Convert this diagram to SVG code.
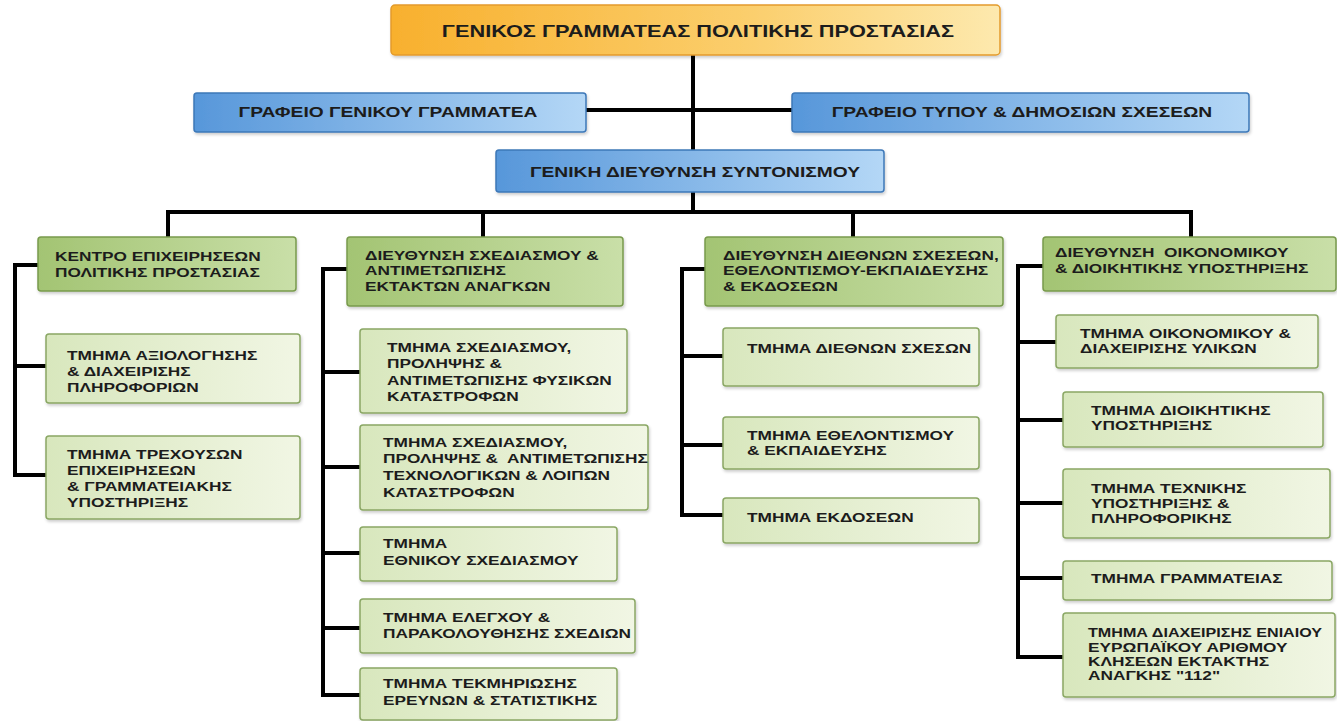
<svg xmlns="http://www.w3.org/2000/svg" width="1337" height="721" viewBox="0 0 1337 721">
<defs>
<linearGradient id="gO" x1="0" y1="0" x2="1" y2="0"><stop offset="0" stop-color="#F8B02E"/><stop offset="0.6" stop-color="#FBCF6E"/><stop offset="1" stop-color="#FDE9AE"/></linearGradient>
<linearGradient id="gB" x1="0" y1="0" x2="1" y2="0"><stop offset="0" stop-color="#5797DA"/><stop offset="1" stop-color="#B4D7F6"/></linearGradient>
<linearGradient id="gG" x1="0" y1="0" x2="1" y2="0"><stop offset="0" stop-color="#A3C473"/><stop offset="1" stop-color="#C9DFA8"/></linearGradient>
<linearGradient id="gL" x1="0" y1="0" x2="1" y2="0"><stop offset="0" stop-color="#D8E7BD"/><stop offset="1" stop-color="#F1F6E4"/></linearGradient>
<filter id="sh" x="-5%" y="-10%" width="110%" height="130%"><feDropShadow dx="1" dy="2" stdDeviation="1.5" flood-color="#000" flood-opacity="0.2"/></filter>
</defs>
<style>
.t{font-family:"Liberation Sans",Arial,sans-serif;font-weight:bold;fill:#1c1c1c;font-size:13px;white-space:pre}
.h{font-size:17px;text-anchor:middle}
.b{font-size:15px;text-anchor:middle}
.c{stroke:#000;stroke-width:4;fill:none;stroke-linecap:square}
.o{fill:url(#gO);stroke:#E39B2C;stroke-width:1.5;filter:url(#sh)}
.bl{fill:url(#gB);stroke:#3D78B8;stroke-width:1.5;filter:url(#sh)}
.g{fill:url(#gG);stroke:#789A4C;stroke-width:1.5;filter:url(#sh)}
.l{fill:url(#gL);stroke:#8AA764;stroke-width:1.5;filter:url(#sh)}
</style>
<rect width="1337" height="721" fill="#fff"/>
<g id="connectors">
<path class="c" d="M693 55V212M586 110H792M168 212H1191M168 212V237M483 212V237M853 212V237M1191 212V237"/>
<path class="c" d="M15 265V475M15 265H38M15 366H46M15 475H46"/>
<path class="c" d="M323 269V695M323 269H347M323 372H360M323 467H360M323 553H360M323 628H360M323 695H360"/>
<path class="c" d="M682 269V515M682 269H705M682 356H723M682 445H723M682 515H723"/>
<path class="c" d="M1018 266V657M1018 266H1043M1018 342H1056M1018 420H1063M1018 503H1063M1018 578H1063M1018 657H1063"/>
</g>
<g id="n0"><rect class="o" x="391" y="5" width="609" height="50" rx="4"/><text class="t h" transform="translate(698,37) scale(1.28,1)">ΓΕΝΙΚΟΣ ΓΡΑΜΜΑΤΕΑΣ ΠΟΛΙΤΙΚΗΣ ΠΡΟΣΤΑΣΙΑΣ</text></g>
<g id="n1"><rect class="bl" x="194" y="93" width="392" height="39" rx="3"/><text class="t b" transform="translate(388,117) scale(1.28,1)">ΓΡΑΦΕΙΟ ΓΕΝΙΚΟΥ ΓΡΑΜΜΑΤΕΑ</text></g>
<g id="n2"><rect class="bl" x="792" y="93" width="457" height="39" rx="3"/><text class="t b" transform="translate(1022,117) scale(1.28,1)">ΓΡΑΦΕΙΟ ΤΥΠΟΥ &amp; ΔΗΜΟΣΙΩΝ ΣΧΕΣΕΩΝ</text></g>
<g id="n3"><rect class="bl" x="496" y="150" width="388" height="42" rx="3"/><text class="t b" transform="translate(695,177) scale(1.28,1)">ΓΕΝΙΚΗ ΔΙΕΥΘΥΝΣΗ ΣΥΝΤΟΝΙΣΜΟΥ</text></g>

<g id="d1"><rect class="g" x="38" y="237" width="258" height="54" rx="3"/><text class="t" transform="translate(55,261) scale(1.33,1)"><tspan x="0" y="0">ΚΕΝΤΡΟ ΕΠΙΧΕΙΡΗΣΕΩΝ</tspan><tspan x="0" y="16">ΠΟΛΙΤΙΚΗΣ ΠΡΟΣΤΑΣΙΑΣ</tspan></text></g>
<g id="d1a"><rect class="l" x="46" y="334" width="254" height="69" rx="3"/><text class="t" transform="translate(67,360) scale(1.33,1)"><tspan x="0" y="0">ΤΜΗΜΑ ΑΞΙΟΛΟΓΗΣΗΣ</tspan><tspan x="0" y="16">&amp; ΔΙΑΧΕΙΡΙΣΗΣ</tspan><tspan x="0" y="32">ΠΛΗΡΟΦΟΡΙΩΝ</tspan></text></g>
<g id="d1b"><rect class="l" x="46" y="436" width="254" height="83" rx="3"/><text class="t" transform="translate(67,459) scale(1.33,1)"><tspan x="0" y="0">ΤΜΗΜΑ ΤΡΕΧΟΥΣΩΝ</tspan><tspan x="0" y="16">ΕΠΙΧΕΙΡΗΣΕΩΝ</tspan><tspan x="0" y="32">&amp; ΓΡΑΜΜΑΤΕΙΑΚΗΣ</tspan><tspan x="0" y="48">ΥΠΟΣΤΗΡΙΞΗΣ</tspan></text></g>

<g id="d2"><rect class="g" x="347" y="237" width="276" height="69" rx="3"/><text class="t" transform="translate(365,260) scale(1.33,1)"><tspan x="0" y="0">ΔΙΕΥΘΥΝΣΗ ΣΧΕΔΙΑΣΜΟΥ &amp;</tspan><tspan x="0" y="15.5">ΑΝΤΙΜΕΤΩΠΙΣΗΣ</tspan><tspan x="0" y="31">ΕΚΤΑΚΤΩΝ ΑΝΑΓΚΩΝ</tspan></text></g>
<g id="d2a"><rect class="l" x="360" y="329" width="267" height="84" rx="3"/><text class="t" transform="translate(387,352) scale(1.33,1)"><tspan x="0" y="0">ΤΜΗΜΑ ΣΧΕΔΙΑΣΜΟΥ,</tspan><tspan x="0" y="16.5">ΠΡΟΛΗΨΗΣ &amp;</tspan><tspan x="0" y="33">ΑΝΤΙΜΕΤΩΠΙΣΗΣ ΦΥΣΙΚΩΝ</tspan><tspan x="0" y="49.5">ΚΑΤΑΣΤΡΟΦΩΝ</tspan></text></g>
<g id="d2b"><rect class="l" x="360" y="425" width="288" height="85" rx="3"/><text class="t" transform="translate(383,447) scale(1.33,1)"><tspan x="0" y="0">ΤΜΗΜΑ ΣΧΕΔΙΑΣΜΟΥ,</tspan><tspan x="0" y="16.5">ΠΡΟΛΗΨΗΣ &amp;  ΑΝΤΙΜΕΤΩΠΙΣΗΣ</tspan><tspan x="0" y="33">ΤΕΧΝΟΛΟΓΙΚΩΝ &amp; ΛΟΙΠΩΝ</tspan><tspan x="0" y="50">ΚΑΤΑΣΤΡΟΦΩΝ</tspan></text></g>
<g id="d2c"><rect class="l" x="360" y="527" width="257" height="54" rx="3"/><text class="t" transform="translate(383,548) scale(1.33,1)"><tspan x="0" y="0">ΤΜΗΜΑ</tspan><tspan x="0" y="17">ΕΘΝΙΚΟΥ ΣΧΕΔΙΑΣΜΟΥ</tspan></text></g>
<g id="d2d"><rect class="l" x="360" y="599" width="275" height="54" rx="3"/><text class="t" transform="translate(383,622) scale(1.33,1)"><tspan x="0" y="0">ΤΜΗΜΑ ΕΛΕΓΧΟΥ &amp;</tspan><tspan x="0" y="16">ΠΑΡΑΚΟΛΟΥΘΗΣΗΣ ΣΧΕΔΙΩΝ</tspan></text></g>
<g id="d2e"><rect class="l" x="360" y="668" width="257" height="52" rx="3"/><text class="t" transform="translate(383,688) scale(1.33,1)"><tspan x="0" y="0">ΤΜΗΜΑ ΤΕΚΜΗΡΙΩΣΗΣ</tspan><tspan x="0" y="17">ΕΡΕΥΝΩΝ &amp; ΣΤΑΤΙΣΤΙΚΗΣ</tspan></text></g>

<g id="d3"><rect class="g" x="705" y="237" width="298" height="69" rx="3"/><text class="t" transform="translate(723,260) scale(1.33,1)"><tspan x="0" y="0">ΔΙΕΥΘΥΝΣΗ ΔΙΕΘΝΩΝ ΣΧΕΣΕΩΝ,</tspan><tspan x="0" y="15.5">ΕΘΕΛΟΝΤΙΣΜΟΥ-ΕΚΠΑΙΔΕΥΣΗΣ</tspan><tspan x="0" y="31">&amp; ΕΚΔΟΣΕΩΝ</tspan></text></g>
<g id="d3a"><rect class="l" x="723" y="328" width="256" height="58" rx="3"/><text class="t" transform="translate(747,353) scale(1.33,1)">ΤΜΗΜΑ ΔΙΕΘΝΩΝ ΣΧΕΣΩΝ</text></g>
<g id="d3b"><rect class="l" x="723" y="417" width="256" height="52" rx="3"/><text class="t" transform="translate(747,440) scale(1.33,1)"><tspan x="0" y="0">ΤΜΗΜΑ ΕΘΕΛΟΝΤΙΣΜΟΥ</tspan><tspan x="0" y="15">&amp; ΕΚΠΑΙΔΕΥΣΗΣ</tspan></text></g>
<g id="d3c"><rect class="l" x="723" y="498" width="256" height="45" rx="3"/><text class="t" transform="translate(747,522) scale(1.33,1)">ΤΜΗΜΑ ΕΚΔΟΣΕΩΝ</text></g>

<g id="d4"><rect class="g" x="1043" y="237" width="293" height="54" rx="3"/><text class="t" transform="translate(1055,257) scale(1.33,1)"><tspan x="0" y="0">ΔΙΕΥΘΥΝΣΗ  ΟΙΚΟΝΟΜΙΚΟΥ</tspan><tspan x="0" y="16">&amp; ΔΙΟΙΚΗΤΙΚΗΣ ΥΠΟΣΤΗΡΙΞΗΣ</tspan></text></g>
<g id="d4a"><rect class="l" x="1056" y="315" width="262" height="53" rx="3"/><text class="t" transform="translate(1080,338) scale(1.33,1)"><tspan x="0" y="0">ΤΜΗΜΑ ΟΙΚΟΝΟΜΙΚΟΥ &amp;</tspan><tspan x="0" y="15">ΔΙΑΧΕΙΡΙΣΗΣ ΥΛΙΚΩΝ</tspan></text></g>
<g id="d4b"><rect class="l" x="1063" y="392" width="260" height="55" rx="3"/><text class="t" transform="translate(1091,415) scale(1.33,1)"><tspan x="0" y="0">ΤΜΗΜΑ ΔΙΟΙΚΗΤΙΚΗΣ</tspan><tspan x="0" y="15">ΥΠΟΣΤΗΡΙΞΗΣ</tspan></text></g>
<g id="d4c"><rect class="l" x="1063" y="469" width="267" height="69" rx="3"/><text class="t" transform="translate(1091,493) scale(1.33,1)"><tspan x="0" y="0">ΤΜΗΜΑ ΤΕΧΝΙΚΗΣ</tspan><tspan x="0" y="15">ΥΠΟΣΤΗΡΙΞΗΣ &amp;</tspan><tspan x="0" y="30">ΠΛΗΡΟΦΟΡΙΚΗΣ</tspan></text></g>
<g id="d4d"><rect class="l" x="1063" y="561" width="269" height="39" rx="3"/><text class="t" transform="translate(1091,583) scale(1.33,1)">ΤΜΗΜΑ ΓΡΑΜΜΑΤΕΙΑΣ</text></g>
<g id="d4e"><rect class="l" x="1063" y="613" width="272" height="84" rx="3"/><text class="t" transform="translate(1088,637) scale(1.33,1)"><tspan x="0" y="0" textLength="176" lengthAdjust="spacingAndGlyphs">ΤΜΗΜΑ ΔΙΑΧΕΙΡΙΣΗΣ ΕΝΙΑΙΟΥ</tspan><tspan x="0" y="15">ΕΥΡΩΠΑΪΚΟΥ ΑΡΙΘΜΟΥ</tspan><tspan x="0" y="29">ΚΛΗΣΕΩΝ ΕΚΤΑΚΤΗΣ</tspan><tspan x="0" y="43">ΑΝΑΓΚΗΣ "112"</tspan></text></g>
</svg>
